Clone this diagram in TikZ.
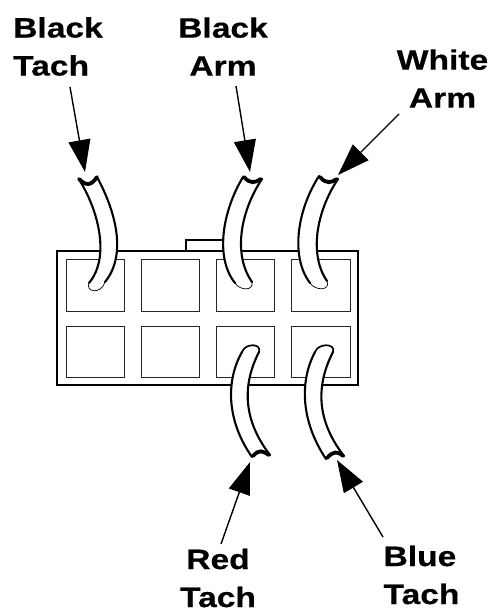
\documentclass[tikz,border=0pt]{standalone}
\usepackage{fontspec}
\setmainfont{Liberation Sans}
\newfontfamily\labfont{Liberation Sans}[FakeStretch=1.2,BoldFeatures={FakeBold=0.5}]
\usetikzlibrary{arrows.meta}
\newcommand{\wireshape}[5]{%
  \fill[white] #1 -- #3 -- #2 -- cycle;
  \draw[wireedge] #1;
  \draw[wireedge] #2;
  \draw[#5] #3;
  \draw[capedge] #4;
}
\begin{document}
\begin{tikzpicture}[x=1pt,y=-1pt,
  lab/.style={font=\labfont\fontsize{28}{38}\selectfont\bfseries,inner sep=0pt},
  cell/.style={draw=black!85,line width=1pt},
  wireedge/.style={draw=black,line width=2.1pt,line cap=round},
  seatthin/.style={draw=black,line width=.7pt},
  seatthick/.style={draw=black,line width=1.7pt},
  capedge/.style={draw=black,line width=3.8pt,line cap=round},
  pin/.style={draw=black,line width=1.4pt,-{Triangle[length=32pt,width=22pt]}}]
\useasboundingbox (0,0) rectangle (491,609);
\draw[line width=1.5pt] (225,251) -- (186,251) -- (186,240) -- (225,240);
\node[draw=black,line width=1.3pt,minimum width=301pt,minimum height=134pt,inner sep=0pt] (housing) at (207.5,318) {};
\foreach \xa/\xb in {66/124,141/199,216/274,291/350}{
  \draw[cell] (\xa,259) rectangle (\xb,311);
  \draw[cell] (\xa,326) rectangle (\xb,377);
}
% wires
\wireshape{(80,181) .. controls (99,212) and (110,258) .. (89,283)}
  {(105,282) .. controls (127,255) and (116,212) .. (97,177)}
  {(89,283) .. controls (85,292) and (101,295) .. (105,282)}
  {(79,179) .. controls (86,186) and (91,186) .. (97,177)}{seatthin}
\wireshape{(243,177) .. controls (222,212) and (215,258) .. (235,283)}
  {(252,282) .. controls (233,255) and (240,212) .. (262,179)}
  {(235,283) .. controls (240,291) and (254,291) .. (252,282)}
  {(244,177) .. controls (250,184) and (255,183) .. (261,179)}{seatthin}
\wireshape{(319,176) .. controls (296,212) and (291,258) .. (310,283)}
  {(327,281) .. controls (309,255) and (316,212) .. (338,179)}
  {(310,283) .. controls (315,291) and (331,291) .. (327,281)}
  {(320,177) .. controls (326,184) and (331,183) .. (337,179)}{seatthin}
\wireshape{(252,457) .. controls (226,420) and (226,380) .. (242,352)}
  {(259,352) .. controls (242,385) and (243,420) .. (270,455)}
  {(242,352) .. controls (245,343) and (262,343) .. (259,352)}
  {(253,456) .. controls (259,449) and (263,451) .. (269,455)}{seatthick}
\wireshape{(326,459) .. controls (300,420) and (300,380) .. (315,352)}
  {(333,352) .. controls (316,385) and (316,420) .. (344,456)}
  {(315,352) .. controls (318,343) and (336,343) .. (333,352)}
  {(327,458) .. controls (333,451) and (338,451) .. (343,456)}{seatthick}
% labels
\node[lab,align=left] (bt) at (58,46.5) {Black\\Tach};
\node[lab,align=center] (ba) at (223,46.5) {Black\\Arm};
\node[lab,align=center] (wa) at (442.5,78.5) {White\\Arm};
\node[lab,align=center] (rt) at (218,578) {Red\\Tach};
\node[lab,align=left] (blt) at (421.5,575) {Blue\\Tach};
% pointers
\coordinate (s1) at (70,87);   \coordinate (t1) at (85,172);
\coordinate (s2) at (236,86);  \coordinate (t2) at (250,172);
\coordinate (s3) at (399,114); \coordinate (t3) at (338,175);
\coordinate (s4) at (221,544); \coordinate (t4) at (250,462);
\coordinate (s5) at (383,537); \coordinate (t5) at (337,460);
\draw[pin] (s1) -- (t1);
\draw[pin] (s2) -- (t2);
\draw[pin] (s3) -- (t3);
\draw[pin] (s4) -- (t4);
\draw[pin] (s5) -- (t5);
\end{tikzpicture}
\end{document}
